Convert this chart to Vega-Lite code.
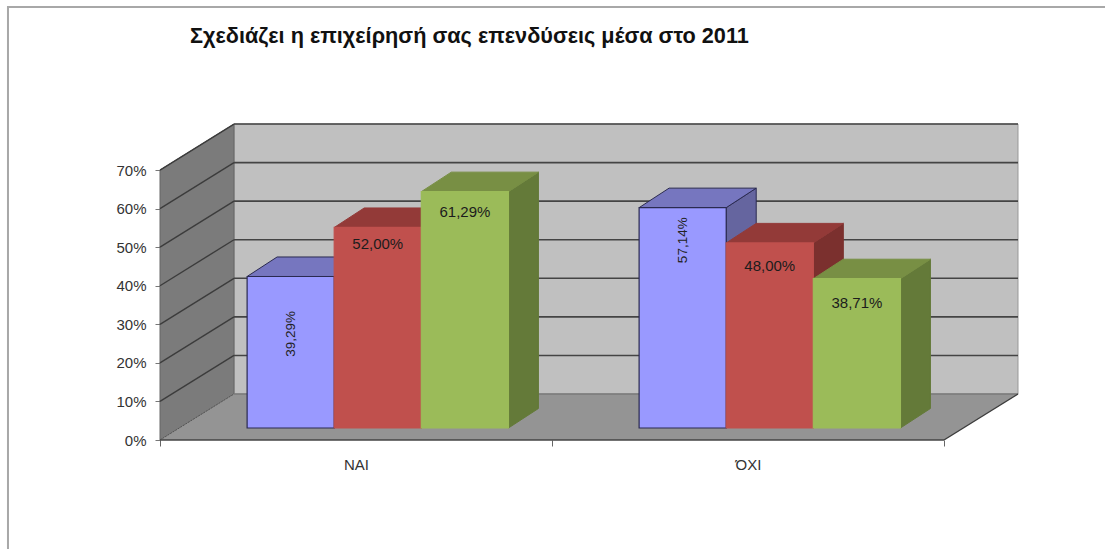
{
"$schema":"https://vega.github.io/schema/vega-lite/v6.json",
"width":858,"height":317,
"autosize":{"type":"none"},
"padding":{"left":160,"top":123,"right":87,"bottom":109},
"background":"white",
"config":{"view":{"stroke":null},"font":"Liberation Sans"},
"title":{"text":"Σχεδιάζει η επιχείρησή σας επενδύσεις μέσα στο 2011","anchor":"start","frame":"group","dx":30,"offset":0,"dy":42,"fontSize":21.7,"fontWeight":"bold","font":"Liberation Sans","color":"#111111"},
"datasets":{
"ticks":[{"tick":10},{"tick":20},{"tick":30},{"tick":40},{"tick":50},{"tick":60},{"tick":70}],
"bars":[
{"group":"ΝΑΙ","series":"S1","value":39.29},
{"group":"ΝΑΙ","series":"S2","value":52.0},
{"group":"ΝΑΙ","series":"S3","value":61.29},
{"group":"ΌΧΙ","series":"S1","value":57.14},
{"group":"ΌΧΙ","series":"S2","value":48.0},
{"group":"ΌΧΙ","series":"S3","value":38.71}
],
"one":[{"part":"wall"}]
},
"layer":[
{"data":{"name":"one"},
 "mark":{"type":"rect","fillOpacity":0,"stroke":"#a8a8a8","strokeWidth":2,"clip":false},
 "encoding":{
  "x":{"datum":-0.3878,"type":"quantitative","scale":{"domain":[0,2.1888],"nice":false,"zero":false},
   "axis":{"title":null,"domain":false,"grid":false,"values":[0,0.5,1,1.5,2],"labelExpr":"datum.value==0.5?'ΝΑΙ':datum.value==1.5?'ΌΧΙ':''","tickOpacity":{"expr":"datum.value%1==0?1:0"},"tickColor":"#666666","tickSize":6,"labelPadding":11,"labelFontSize":15,"labelColor":"#333333","labelFont":"Liberation Sans","labelAngle":0,"labelOverlap":false,"labelFlush":false}},
  "x2":{"datum":2.6},
  "y":{"datum":-40,"type":"quantitative","scale":{"domain":[0,82.2],"nice":false,"zero":false},
   "axis":{"title":null,"domain":false,"grid":false,"values":[0,10,20,30,40,50,60,70],"labelExpr":"datum.value+'%'","tickColor":"#777777","tickSize":5,"labelPadding":9,"labelFontSize":15,"labelColor":"#333333","labelFont":"Liberation Sans"}},
  "y2":{"datum":112.3}
 }},
{"data":{"name":"one"},"mark":{"type":"rect","fill":"#c0c0c0","stroke":"#999999","strokeWidth":1},
 "encoding":{"x":{"datum":0.1888,"type":"quantitative"},"x2":{"datum":2.1888},"y":{"datum":11.93,"type":"quantitative"},"y2":{"datum":81.93}}},
{"data":{"name":"one"},
 "transform":[{"calculate":"[0,1]","as":"t"},{"flatten":["t"]},{"calculate":"datum.t*0.1888","as":"ax"},{"calculate":"datum.t*11.93","as":"ay"},{"calculate":"70+datum.t*11.93","as":"ay2"}],
 "mark":{"type":"area","fill":"#7b7b7b","stroke":"#666666","strokeWidth":1},
 "encoding":{"x":{"field":"ax","type":"quantitative"},"y":{"field":"ay","type":"quantitative"},"y2":{"field":"ay2"}}},
{"data":{"name":"one"},
 "transform":[{"calculate":"[0,1]","as":"t"},{"flatten":["t"]},{"calculate":"datum.t*0.1888","as":"ax"},{"calculate":"2+datum.t*0.1888","as":"ax2"},{"calculate":"datum.t*11.93","as":"ay"}],
 "mark":{"type":"area","fill":"#949494","orient":"horizontal"},
 "encoding":{"y":{"field":"ay","type":"quantitative"},"x":{"field":"ax","type":"quantitative"},"x2":{"field":"ax2"}}},
{"data":{"name":"ticks"},
 "mark":{"type":"rule","color":"#3c3c3c","strokeWidth":1.4},
 "encoding":{"x":{"datum":0,"type":"quantitative"},"x2":{"datum":0.1888},"y":{"field":"tick","type":"quantitative"},"y2":{"field":"back"}},
 "transform":[{"calculate":"datum.tick+11.93","as":"back"}]},
{"data":{"name":"ticks"},
 "transform":[{"calculate":"datum.tick+11.93","as":"back"}],
 "mark":{"type":"rule","color":"#444444","strokeWidth":1.6},
 "encoding":{"x":{"datum":0.1888,"type":"quantitative"},"x2":{"datum":2.1888},"y":{"field":"back","type":"quantitative"}}},
{"data":{"name":"one"},"mark":{"type":"rule","color":"#7a7a7a","strokeWidth":1.5},
 "encoding":{"x":{"datum":0.1888,"type":"quantitative"},"x2":{"datum":2.1888},"y":{"datum":11.93,"type":"quantitative"}}},
{"data":{"name":"one"},"mark":{"type":"rule","color":"#555555","strokeWidth":1,"strokeDash":[2,1]},
 "encoding":{"x":{"datum":0,"type":"quantitative"},"x2":{"datum":0.1888},"y":{"datum":0,"type":"quantitative"},"y2":{"datum":11.93}}},
{"data":{"name":"one"},"mark":{"type":"rule","color":"#3c3c3c","strokeWidth":1.4},
 "encoding":{"x":{"datum":2,"type":"quantitative"},"x2":{"datum":2.1888},"y":{"datum":0,"type":"quantitative"},"y2":{"datum":11.93}}},
{"data":{"name":"one"},"mark":{"type":"rule","color":"#444444","strokeWidth":1.4},
 "encoding":{"x":{"datum":0,"type":"quantitative"},"x2":{"datum":2},"y":{"datum":0,"type":"quantitative"}}},
{"data":{"name":"bars"},
 "transform":[
  {"calculate":"datum.group=='ΝΑΙ'?0:1","as":"gi"},
  {"calculate":"indexof(['S1','S2','S3'],datum.series)","as":"si"},
  {"calculate":"datum.gi+(1+datum.si)*2/9","as":"x0"},
  {"calculate":"datum.x0+2/9","as":"x1"},
  {"calculate":"datum.value+3.11","as":"top"},
  {"calculate":"datum.group+datum.series","as":"key"},
  {"calculate":"replace(format(datum.value,'.2f'),'.',',')+'%'","as":"lab"},
  {"calculate":"(datum.x0+datum.x1)/2","as":"xm"},
  {"calculate":"datum.si==0?(datum.gi==0?27.5:51.8):datum.top-(datum.si==1?(datum.gi==0?4.2:6):(datum.gi==0?5.4:6.2))","as":"ly"}
 ],
 "layer":[
  {"transform":[{"calculate":"[0,1]","as":"t"},{"flatten":["t"]},{"calculate":"datum.x1+datum.t*0.0765","as":"sx"},{"calculate":"3.11+datum.t*5.06","as":"sy"},{"calculate":"datum.top+datum.t*5.06","as":"sy2"}],
   "mark":{"type":"area","strokeWidth":1},
   "encoding":{"x":{"field":"sx","type":"quantitative"},"y":{"field":"sy","type":"quantitative"},"y2":{"field":"sy2"},"detail":{"field":"key"},
    "fill":{"field":"series","type":"nominal","legend":null,"scale":{"domain":["S1","S2","S3"],"range":["#65659f","#7b302e","#647a39"]}},
    "stroke":{"field":"series","type":"nominal","legend":null,"scale":{"domain":["S1","S2","S3"],"range":["#2a2a50","#7b302e","#647a39"]}}}},
  {"transform":[{"calculate":"[0,1]","as":"t"},{"flatten":["t"]},{"calculate":"datum.x0+datum.t*0.0765","as":"tx"},{"calculate":"datum.x1+datum.t*0.0765","as":"tx2"},{"calculate":"datum.top+datum.t*5.06","as":"ty"}],
   "mark":{"type":"area","orient":"horizontal","strokeWidth":1},
   "encoding":{"y":{"field":"ty","type":"quantitative"},"x":{"field":"tx","type":"quantitative"},"x2":{"field":"tx2"},"detail":{"field":"key"},
    "fill":{"field":"series","type":"nominal","legend":null,"scale":{"domain":["S1","S2","S3"],"range":["#7676bf","#933a38","#788f44"]}},
    "stroke":{"field":"series","type":"nominal","legend":null,"scale":{"domain":["S1","S2","S3"],"range":["#2a2a50","#933a38","#788f44"]}}}},
  {"mark":{"type":"rect","strokeWidth":1.2},
   "transform":[{"calculate":"3.11","as":"base"}],
   "encoding":{"x":{"field":"x0","type":"quantitative"},"x2":{"field":"x1"},"y":{"field":"top","type":"quantitative"},"y2":{"field":"base"},
    "fill":{"field":"series","type":"nominal","legend":null,"scale":{"domain":["S1","S2","S3"],"range":["#9999ff","#c0504d","#9bbb59"]}},
    "stroke":{"field":"series","type":"nominal","legend":null,"scale":{"domain":["S1","S2","S3"],"range":["#2a2a50","#c0504d","#9bbb59"]}}}},
  {"transform":[{"filter":"datum.si==0"}],
   "mark":{"type":"text","angle":270,"fontSize":13.5,"font":"Liberation Sans","color":"#222222","baseline":"middle","align":"center"},
   "encoding":{"x":{"field":"xm","type":"quantitative"},"y":{"field":"ly","type":"quantitative"},"text":{"field":"lab"}}},
  {"transform":[{"filter":"datum.si!=0"}],
   "mark":{"type":"text","fontSize":15,"font":"Liberation Sans","color":"#1c1c1c","baseline":"middle","align":"center"},
   "encoding":{"x":{"field":"xm","type":"quantitative"},"y":{"field":"ly","type":"quantitative"},"text":{"field":"lab"}}}
 ],
 "resolve":{"scale":{"fill":"independent","stroke":"independent"}}
}
]
}
